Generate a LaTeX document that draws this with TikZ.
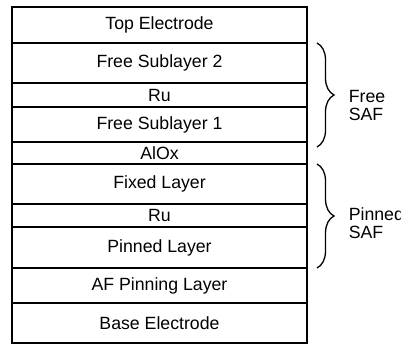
\documentclass[tikz,border=0pt]{standalone}
\usepackage{fontspec}
\setmainfont{Liberation Sans}
\usetikzlibrary{positioning, decorations.pathreplacing}

\begin{document}
\begin{tikzpicture}[x=1pt, y=1pt, line width=1.6pt,
    font=\fontsize{17.7}{17.5}\selectfont,
    layer/.style={draw, minimum width=295pt, inner sep=0pt, outer sep=0pt, anchor=north},
    brc/.style={decorate, decoration={brace, amplitude=17pt}, line width=1.3pt}]
    \useasboundingbox (0,0) rectangle (401,343);
    % Layer stack, top to bottom
    \node[layer, minimum height=36pt] (topel) at (159.5,336) {Top Electrode};
    \node[layer, minimum height=40pt, below=0pt of topel] (free2) {Free Sublayer 2};
    \node[layer, minimum height=24pt, below=0pt of free2] (ru1) {Ru};
    \node[layer, minimum height=35pt, below=0pt of ru1] (free1) {Free Sublayer 1};
    \node[layer, minimum height=22pt, below=0pt of free1] (alox) {AlOx};
    \node[layer, minimum height=40pt, below=0pt of alox] (fixed) {Fixed Layer};
    \node[layer, minimum height=23pt, below=0pt of fixed] (ru2) {Ru};
    \node[layer, minimum height=41pt, below=0pt of ru2] (pinned) {Pinned Layer};
    \node[layer, minimum height=35pt, below=0pt of pinned] (afpin) {AF Pinning Layer};
    \node[layer, minimum height=40pt, below=0pt of afpin] (baseel) {Base Electrode};

    % Braces
    \draw[brc] ([xshift=10pt]free2.north east) -- ([xshift=10pt,yshift=-5pt]free1.south east);
    \draw[brc] ([xshift=10pt]fixed.north east) -- ([xshift=10pt]pinned.south east);

    % Labels
    \node[anchor=west, align=left, inner sep=0pt] (freesaf) at (348,237.5) {Free\\SAF};
    \node[anchor=west, align=left, inner sep=0pt] (pinsaf) at (348,120) {Pinned\\SAF};
\end{tikzpicture}
\end{document}
